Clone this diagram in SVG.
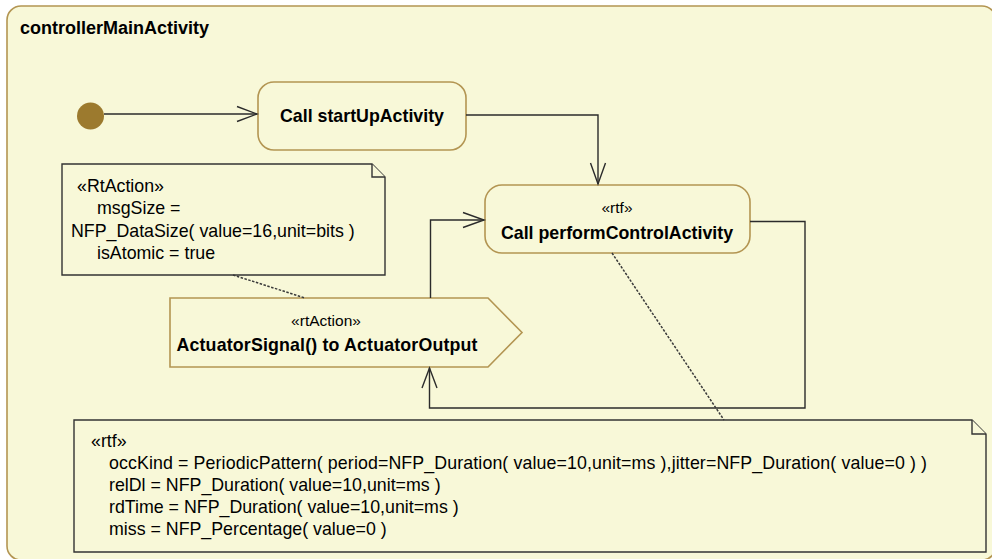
<svg xmlns="http://www.w3.org/2000/svg" width="992" height="559" viewBox="0 0 992 559">
  <defs>
    <style>
      .frame { fill: #f8f8d8; stroke: #b39552; stroke-width: 1.6; }
      .node { fill: #f8f8d8; stroke: #b39552; stroke-width: 1.6; }
      .note { fill: #f8f8d8; stroke: #333333; stroke-width: 1.4; }
      .edge { fill: none; stroke: #2b2b2b; stroke-width: 1.4; }
      .anchor { fill: none; stroke: #3a3a3a; stroke-width: 1.5; stroke-dasharray: 2.5 1.5; }
      .head { fill: none; stroke: #2b2b2b; stroke-width: 1.4; }
      .title { font-family: "Liberation Sans", Arial, sans-serif; font-weight: bold; font-size: 18px; fill: #000; }
      .bold { font-family: "Liberation Sans", Arial, sans-serif; font-weight: bold; font-size: 17.8px; fill: #000; }
      .ster { font-family: "Liberation Sans", Arial, sans-serif; font-size: 15.5px; fill: #000; }
      .txt { font-family: "Liberation Sans", Arial, sans-serif; font-size: 17.8px; fill: #000; }
    </style>
  </defs>

  <!-- activity frame -->
  <g id="controllerMainActivity">
    <rect class="frame" x="7" y="6" width="989" height="554" rx="14" ry="14"/>
    <text class="title" x="20" y="34">controllerMainActivity</text>
  </g>

  <!-- initial node -->
  <g id="initial">
    <circle cx="90.5" cy="116" r="13.5" fill="#9c7a2e"/>
  </g>

  <!-- call behavior actions -->
  <g id="callStartUp">
    <rect class="node" x="258" y="82" width="208" height="68" rx="16" ry="16"/>
    <text class="bold" x="362" y="122" text-anchor="middle">Call startUpActivity</text>
  </g>

  <g id="callPerformControl">
    <rect class="node" x="485" y="185" width="265" height="68" rx="17" ry="17"/>
    <text class="ster" x="617" y="213" text-anchor="middle">«rtf»</text>
    <text class="bold" x="617" y="239" text-anchor="middle">Call performControlActivity</text>
  </g>

  <!-- send signal action -->
  <g id="sendActuatorSignal">
    <polygon class="node" points="170,298 488,298 522,332.5 488,367 170,367"/>
    <text class="ster" x="326" y="326" text-anchor="middle">«rtAction»</text>
    <text class="bold" x="327" y="351" text-anchor="middle" textLength="301" lengthAdjust="spacing">ActuatorSignal() to ActuatorOutput</text>
  </g>

  <!-- comment notes -->
  <g id="noteRtAction">
    <path class="note" d="M62,164 H372 L385,177 V275 H62 Z"/>
    <path class="note" d="M372,164 V177 H385" fill="none"/>
    <text class="txt" x="77" y="192">«RtAction»</text>
    <text class="txt" x="97" y="214">msgSize =</text>
    <text class="txt" x="71" y="237">NFP_DataSize( value=16,unit=bits )</text>
    <text class="txt" x="97" y="259">isAtomic = true</text>
  </g>

  <g id="noteRtf">
    <path class="note" d="M74,420 H972 L986,434 V552 H74 Z"/>
    <path class="note" d="M972,420 V434 H986" fill="none"/>
    <text class="txt" x="91" y="447">«rtf»</text>
    <text class="txt" x="109" y="469" textLength="818" lengthAdjust="spacing">occKind = PeriodicPattern( period=NFP_Duration( value=10,unit=ms ),jitter=NFP_Duration( value=0 ) )</text>
    <text class="txt" x="109" y="491">relDl = NFP_Duration( value=10,unit=ms )</text>
    <text class="txt" x="109" y="513">rdTime = NFP_Duration( value=10,unit=ms )</text>
    <text class="txt" x="109" y="535">miss = NFP_Percentage( value=0 )</text>
  </g>

  <!-- control flows and note anchors -->
  <g id="connectors">
    <path class="edge" d="M104,114 H257"/>
    <path class="head" d="M237,106.5 L257,114 L237,121.5"/>

    <path class="edge" d="M466,115 H598 V184"/>
    <path class="head" d="M590.5,163 L598,184 L605.5,163"/>

    <path class="edge" d="M750,221.5 H805 V408 H429.5 V368"/>
    <path class="head" d="M422,388 L429.5,368 L437,388"/>

    <path class="edge" d="M430.5,298 V220 H484"/>
    <path class="head" d="M463,212.5 L484,220 L463,227.5"/>

    <path class="anchor" d="M233,275 L305,298"/>
    <path class="anchor" d="M612,253 L724,420"/>
  </g>
</svg>
